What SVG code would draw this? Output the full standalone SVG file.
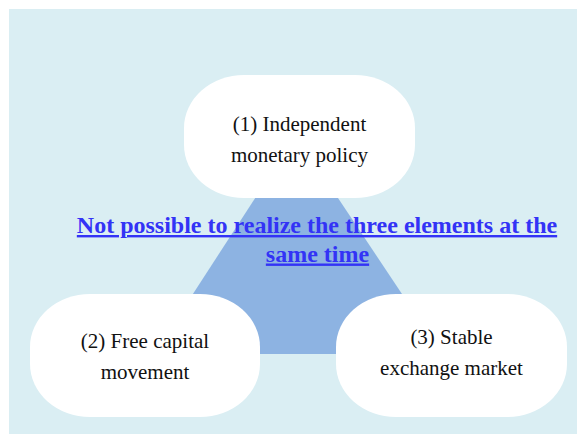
<svg xmlns="http://www.w3.org/2000/svg" width="577" height="435" viewBox="0 0 577 435">
  <style>
    .pill { fill: #ffffff; }
    .label { font-family: "Liberation Serif", "Times New Roman", serif; font-size: 21px; fill: #111111; text-anchor: middle; }
    .headline { font-family: "Liberation Serif", "Times New Roman", serif; font-size: 24px; font-weight: bold; fill: #3333f6; text-anchor: middle; text-decoration: underline; }
  </style>

  <!-- panel background -->
  <rect x="9" y="9" width="568" height="425" fill="#daeef3"/>

  <!-- central triangle tying the three goals together -->
  <g id="trilemma-triangle">
    <polygon points="296,135 154,354 442,354" fill="#8db3e2"/>
  </g>

  <g id="connectors"></g>

  <g id="node-monetary-policy">
    <rect class="pill" x="184" y="75" width="231" height="123" rx="60" ry="53"/>
    <text class="label" x="299.5" y="131">(1) Independent</text>
    <text class="label" x="299.5" y="162">monetary policy</text>
  </g>

  <g id="node-capital-movement">
    <rect class="pill" x="30" y="294" width="230" height="123" rx="60" ry="53"/>
    <text class="label" x="145" y="348">(2) Free capital</text>
    <text class="label" x="145" y="379">movement</text>
  </g>

  <g id="node-exchange-market">
    <rect class="pill" x="336" y="294" width="231" height="123" rx="60" ry="53"/>
    <text class="label" x="451.5" y="344">(3) Stable</text>
    <text class="label" x="451.5" y="375">exchange market</text>
  </g>

  <g id="headline">
    <text class="headline" x="317" y="233">Not possible to realize the three elements at the</text>
    <text class="headline" x="317.5" y="261.5">same time</text>
  </g>
</svg>
